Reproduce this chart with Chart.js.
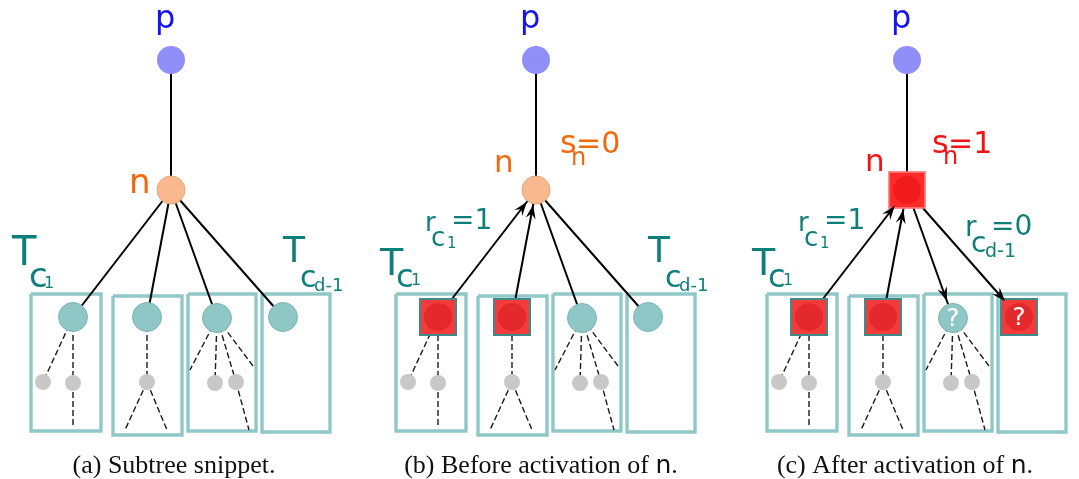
<!DOCTYPE html>
<html>
<head>
<meta charset="utf-8">
<title>Subtree activation</title>
<script src="https://cdn.jsdelivr.net/npm/chart.js@4.4.1/dist/chart.umd.min.js"></script>
<style>
  html, body { margin: 0; padding: 0; background: #fff; }
  canvas { display: block; }
</style>
</head>
<body>
<canvas id="tree" width="1079" height="479"></canvas>
<script>
// x shift of each sub-figure
const panelOffset = [0, 365, 736];
const captionText = ['(a) Subtree snippet.', '(b) Before activation of ', '(c) After activation of '];
const captionCenter = [174, 541, 905];

// node positions, measured in panel (a)
const nodeNames = ['p', 'n', 'c1', 'c2', 'c3', 'c4', 'g1', 'g2', 'g3', 'g4', 'g5', 'e1', 'e2', 'e3', 'e4', 'e5', 'e6'];
const nodeX = [171, 171, 73, 147, 217, 283, 43, 73, 147, 215, 236, 73, 125, 167, 190, 253, 249];
const nodeY = [60, 190, 317, 317, 318, 317, 382, 383, 382, 383, 382, 428, 430, 430, 370, 366, 430];
const grayNodes = ['g1', 'g2', 'g3', 'g4', 'g5'];

const solidEdges = [['p', 'n'], ['n', 'c1'], ['n', 'c2'], ['n', 'c3'], ['n', 'c4']];
const dashedEdges = [['c1', 'g1'], ['c1', 'g2'], ['g2', 'e1'], ['c2', 'g3'], ['g3', 'e2'], ['g3', 'e3'],
                     ['c3', 'e4'], ['c3', 'g4'], ['c3', 'g5'], ['c3', 'e5'], ['g5', 'e6']];

// subtree boxes
const boxLeft = [31, 113, 188, 262];
const boxRight = [101, 182, 256, 330];
const boxTop = [294, 296, 294, 294];
const boxBottom = [431, 435, 431, 432];

// state of n, c1..c4 in each panel
const childNames = ['n', 'c1', 'c2', 'c3', 'c4'];
const childState = [
  ['peach', 'teal', 'teal', 'teal', 'teal'],
  ['peach', 'red', 'red', 'teal', 'teal'],
  ['redN', 'red', 'red', 'teal', 'red']
];
const unknownNodes = [[], [], ['c3', 'c4']];
const arrowEdges = [
  [],
  [['c1', 'n'], ['c2', 'n']],
  [['c1', 'n'], ['c2', 'n'], ['n', 'c3'], ['n', 'c4']]
];

const TEAL_TEXT = '#0d7f7b';
const ORANGE = '#f06a0d';
const RED_TEXT = '#f01515';
const BLUE_TEXT = '#1414e6';

const styles = {
  blue:  { shape: 'circle', r: 14, fill: '#8f8ff7', line: '#8f8ff7', bw: 0, gap: 15 },
  peach: { shape: 'circle', r: 14, fill: '#f9b88d', line: '#e5a47a', bw: 1, gap: 15 },
  teal:  { shape: 'circle', r: 14.5, fill: '#8ec7c6', line: '#7ab5b4', bw: 1, gap: 18 },
  gray:  { shape: 'circle', r: 8, fill: '#c8c8c8', line: '#c8c8c8', bw: 0, gap: 10 },
  red:   { shape: 'rect', half: 18, fill: '#f43b3b', line: '#3e8b8a', bw: 2, inner: '#e3292c', gap: 21 },
  redN:  { shape: 'rect', half: 18, fill: '#ff2a2a', line: 'rgba(255,120,120,0.85)', bw: 2, inner: '#f01c1c', gap: 20 }
};

// text labels: [text, font size, dx, dy] relative to the anchor baseline
const textLabels = [
  { x: 155, y: 28, color: BLUE_TEXT, parts: [['p', 32, 0, 0]] },
  { x: 129, y: 193, color: ORANGE, parts: [['n', 34, 0, 0]] },
  { x: 12, y: 265, color: TEAL_TEXT, parts: [['T', 40, 0, 0], ['c', 34, 17, 22], ['1', 16, 32, 23]] },
  { x: 283, y: 262, color: TEAL_TEXT, parts: [['T', 36, 0, 0], ['c', 30, 17, 25], ['d-1', 18, 31, 29]] },

  { x: 520, y: 28, color: BLUE_TEXT, parts: [['p', 32, 0, 0]] },
  { x: 494, y: 172, color: ORANGE, parts: [['n', 31, 0, 0]] },
  { x: 560, y: 153, color: ORANGE, parts: [['s', 32, 0, 0], ['n', 24, 11, 12], ['=0', 30, 16, 0]] },
  { x: 425, y: 231, color: TEAL_TEXT, parts: [['r', 26, 0, 0], ['c', 26, 6, 15], ['1', 15, 22, 17], ['=1', 28, 26, -2]] },
  { x: 380, y: 275, color: TEAL_TEXT, parts: [['T', 38, 0, 0], ['c', 32, 16, 12], ['1', 16, 31, 10]] },
  { x: 648, y: 262, color: TEAL_TEXT, parts: [['T', 36, 0, 0], ['c', 30, 17, 25], ['d-1', 18, 31, 29]] },

  { x: 891, y: 28, color: BLUE_TEXT, parts: [['p', 32, 0, 0]] },
  { x: 865, y: 171, color: RED_TEXT, parts: [['n', 31, 0, 0]] },
  { x: 932, y: 153, color: RED_TEXT, parts: [['s', 32, 0, 0], ['n', 24, 11, 11], ['=1', 30, 16, 0]] },
  { x: 798, y: 231, color: TEAL_TEXT, parts: [['r', 26, 0, 0], ['c', 26, 6, 15], ['1', 15, 22, 17], ['=1', 28, 26, -2]] },
  { x: 965, y: 236, color: TEAL_TEXT, parts: [['r', 28, 0, 0], ['c', 28, 6, 16], ['d-1', 19, 20, 21], ['=0', 28, 26, -1]] },
  { x: 752, y: 275, color: TEAL_TEXT, parts: [['T', 38, 0, 0], ['c', 32, 16, 12], ['1', 16, 31, 10]] }
];

function nodePoint(panel, name) {
  const i = nodeNames.indexOf(name);
  return { x: nodeX[i] + panelOffset[panel], y: nodeY[i] };
}

function stateOf(panel, name) {
  if (name === 'p') return 'blue';
  const k = childNames.indexOf(name);
  return k >= 0 ? childState[panel][k] : 'gray';
}

// build datasets
const circlePts = [], circleR = [], circleFill = [], circleLine = [], circleBw = [];
const rectPts = [], rectR = [], rectFill = [], rectLine = [];
const innerPts = [], innerFill = [];

panelOffset.forEach((off, k) => {
  ['p'].concat(childNames, grayNodes).forEach(name => {
    const st = styles[stateOf(k, name)];
    const pt = nodePoint(k, name);
    if (st.shape === 'circle') {
      circlePts.push(pt); circleR.push(st.r); circleFill.push(st.fill);
      circleLine.push(st.line); circleBw.push(st.bw);
    } else {
      rectPts.push(pt); rectR.push(st.half * Math.SQRT2); rectFill.push(st.fill); rectLine.push(st.line);
      innerPts.push(pt); innerFill.push(st.inner);
    }
  });
});

const datasets = [
  { data: innerPts, pointStyle: 'circle', pointRadius: 14, pointBackgroundColor: innerFill,
    pointBorderWidth: 0, order: 0 },
  { data: rectPts, pointStyle: 'rect', pointRadius: rectR, pointBackgroundColor: rectFill,
    pointBorderColor: rectLine, pointBorderWidth: 2, order: 1 },
  { data: circlePts, pointStyle: 'circle', pointRadius: circleR, pointBackgroundColor: circleFill,
    pointBorderColor: circleLine, pointBorderWidth: circleBw, order: 2 }
];

panelOffset.forEach((off, k) => {
  solidEdges.forEach(([a, b]) => datasets.push({
    data: [nodePoint(k, a), nodePoint(k, b)], showLine: true, pointRadius: 0,
    borderColor: '#000', borderWidth: 2, order: 3
  }));
  dashedEdges.forEach(([a, b]) => datasets.push({
    data: [nodePoint(k, a), nodePoint(k, b)], showLine: true, pointRadius: 0,
    borderColor: '#1a1a1a', borderWidth: 1.4, borderDash: [6, 3], order: 4
  }));
  boxLeft.forEach((l, i) => datasets.push({
    data: [
      { x: l + off, y: boxTop[i] }, { x: boxRight[i] + off, y: boxTop[i] },
      { x: boxRight[i] + off, y: boxBottom[i] }, { x: l + off, y: boxBottom[i] },
      { x: l + off, y: boxTop[i] }
    ],
    showLine: true, pointRadius: 0, borderColor: '#8fc8c6', borderWidth: 3.4,
    borderJoinStyle: 'miter', order: 5
  }));
});

const overlay = {
  id: 'overlay',
  afterDatasetsDraw(chart) {
    const ctx = chart.ctx;
    const sx = v => chart.scales.x.getPixelForValue(v);
    const sy = v => chart.scales.y.getPixelForValue(v);
    ctx.save();

    // arrowheads
    ctx.fillStyle = '#000';
    arrowEdges.forEach((list, k) => list.forEach(([from, to]) => {
      const a = nodePoint(k, from), b = nodePoint(k, to);
      const ax = sx(a.x), ay = sy(a.y), bx = sx(b.x), by = sy(b.y);
      const len = Math.hypot(bx - ax, by - ay);
      const ux = (bx - ax) / len, uy = (by - ay) / len;
      const gap = styles[stateOf(k, to)].gap;
      const tx = bx - ux * gap, ty = by - uy * gap;
      const L = 14, W = 5;
      ctx.beginPath();
      ctx.moveTo(tx, ty);
      ctx.lineTo(tx - ux * L - uy * W, ty - uy * L + ux * W);
      ctx.lineTo(tx - ux * L * 0.65, ty - uy * L * 0.65);
      ctx.lineTo(tx - ux * L + uy * W, ty - uy * L - ux * W);
      ctx.closePath();
      ctx.fill();
    }));

    // question marks
    ctx.fillStyle = '#fff';
    ctx.font = '25px "DejaVu Sans"';
    ctx.textAlign = 'center';
    ctx.textBaseline = 'middle';
    unknownNodes.forEach((list, k) => list.forEach(name => {
      const pt = nodePoint(k, name);
      ctx.fillText('?', sx(pt.x), sy(pt.y) + 1);
    }));

    // labels
    ctx.textAlign = 'left';
    ctx.textBaseline = 'alphabetic';
    textLabels.forEach(lab => {
      ctx.fillStyle = lab.color;
      lab.parts.forEach(([t, size, dx, dy]) => {
        ctx.font = size + 'px "DejaVu Sans"';
        ctx.fillText(t, sx(lab.x + dx), sy(lab.y + dy));
      });
    });

    // captions
    ctx.fillStyle = '#111';
    const serif = '26px "Liberation Serif", "Times New Roman", serif';
    const sans = '25px "DejaVu Sans"';
    captionText.forEach((txt, k) => {
      const tail = k > 0;
      ctx.font = serif;
      const w1 = ctx.measureText(txt).width;
      const wDot = tail ? ctx.measureText('.').width : 0;
      ctx.font = sans;
      const wN = tail ? ctx.measureText('n').width : 0;
      let x0 = sx(captionCenter[k]) - (w1 + wN + wDot) / 2;
      const y0 = sy(473);
      ctx.font = serif;
      ctx.fillText(txt, x0, y0);
      if (tail) {
        ctx.font = sans;
        ctx.fillText('n', x0 + w1, y0);
        ctx.font = serif;
        ctx.fillText('.', x0 + w1 + wN, y0);
      }
    });
    ctx.restore();
  }
};

new Chart(document.getElementById('tree'), {
  type: 'scatter',
  data: { datasets },
  options: {
    responsive: false,
    animation: false,
    events: [],
    layout: { padding: 0, autoPadding: false },
    plugins: { legend: { display: false }, tooltip: { enabled: false } },
    scales: {
      x: { type: 'linear', min: 0, max: 1079, display: false },
      y: { type: 'linear', min: 0, max: 479, reverse: true, display: false }
    }
  },
  plugins: [overlay]
});
</script>
</body>
</html>
